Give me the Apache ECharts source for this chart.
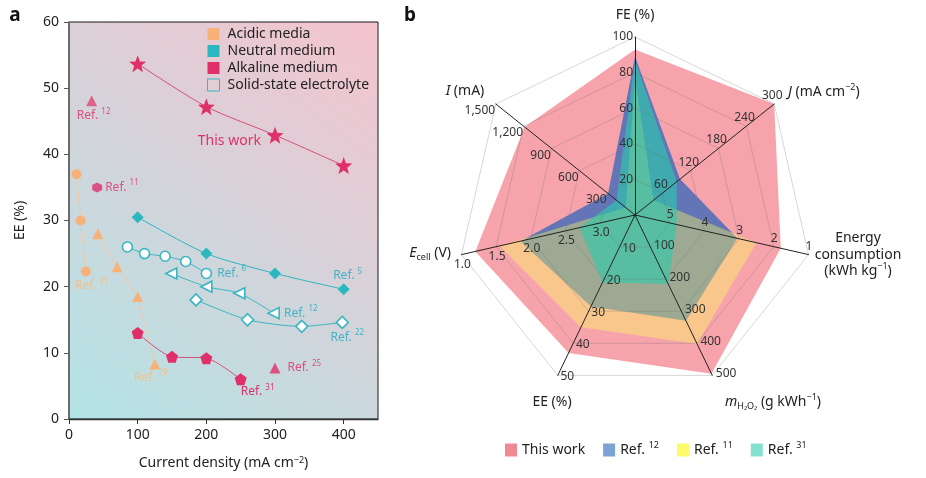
<!DOCTYPE html>
<html><head><meta charset="utf-8">
<script src="https://cdn.jsdelivr.net/npm/echarts@6/dist/echarts.min.js"></script>
<style>html,body{margin:0;padding:0;background:#fff}#c{width:926px;height:478px}</style>
</head><body><div id="c"></div>
<script>
// ---------------- Panel a data (x: current density mA cm-2, y: EE %) ----------------
const xTicksA = [0, 100, 200, 300, 400];
const yTicksA = [0, 10, 20, 30, 40, 50, 60];
const acidicRef21   = [[11, 37], [17, 30], [24.5, 22.3]];
const acidicRef29   = [[42, 28], [70, 23], [100, 18.5], [125, 8.3]];
const neutralRef5   = [[100, 30.5], [200, 25], [300, 22], [400, 19.6]];
const solidRef6     = [[85, 26], [110, 25], [140, 24.6], [170, 23.8], [200, 22]];
const solidRef12    = [[149, 22], [200, 20], [248, 19], [298, 16]];
const solidRef22    = [[185, 18], [260, 15], [339, 14], [398, 14.6]];
const alkalineRef31 = [[100, 13], [150, 9.4], [200, 9.2], [250, 6]];
const alkalineRef25 = [[300, 7.7]];
const alkalineRef12 = [[33, 48.1]];
const alkalineRef11 = [[41, 35]];
const thisWorkA     = [[100, 53.7], [200, 47.2], [300, 42.9], [400, 38.3]];

// ---------------- Panel b data (radar) ----------------
// indicator order (counter-clockwise from top): FE, I, Ecell, EE, mH2O2, Energy consumption, J
const radarAxes   = ['FE', 'I', 'Ecell', 'EE', 'mH2O2', 'Energy', 'J'];
const radarCentre = [0, 0, 3.5, 0, 0, 6, 0];     // value at the centre
const radarRim    = [100, 1500, 1.0, 50, 500, 1, 300]; // value at the outer ring
const radarThisWork = [93, 1190, 1.2, 43, 495, 1.8, 300];
const radarRef12    = [89, 290, 1.85, 28.5, 330, 3.05, 97];
const radarRef11    = [77, 100, 1.55, 35, 402, 2.5, 40];
const radarRef31    = [87, 200, 2.7, 21, 215, 4.8, 90];

const FONT = '"Noto Sans", "DejaVu Sans", sans-serif';
const cAcid = '#f7b27a', cAcidLine = '#f5c9a2', cAcidLbl = '#f3c08e';
const cNeut = '#2bb7bf', cSolid = '#3ab5c2', cTealLbl = '#45b3c6';
const cAlk = '#e0306a', cAlkLine = '#d4507b';

function starPath() {
  const p = [];
  for (let i = 0; i < 10; i++) {
    const r = i % 2 ? 21 : 50, a = Math.PI / 5 * i - Math.PI / 2;
    p.push((50 + r * Math.cos(a)).toFixed(2) + ',' + (50 + r * Math.sin(a)).toFixed(2));
  }
  return 'path://M' + p.join(' L') + ' Z';
}
const symPent = 'path://M50,0 L97.6,34.5 L79.4,90.5 L20.6,90.5 L2.4,34.5 Z';
const symHex = 'path://M50,0 L93.3,25 L93.3,75 L50,100 L6.7,75 L6.7,25 Z';

function refLabel(num, color, pos, dist, offset, size) {
  return {
    show: true, position: pos, distance: dist, offset: offset || [0, 0],
    formatter: (num === null ? '{t|This work}' : '{t|Ref. }{s|' + num + '}'),
    rich: {
      t: { fontSize: size || 12, color: color, fontFamily: FONT, lineHeight: 17 },
      s: { fontSize: 8, color: color, fontFamily: FONT, verticalAlign: 'top', lineHeight: 9 }
    }
  };
}
function withLabel(arr, idx, label) {
  return arr.map((p, i) => i === idx ? { value: p, label: label } : p);
}
function lineS(name, data, o) {
  return Object.assign({
    type: 'line', name: name, data: data, xAxisIndex: 0, yAxisIndex: 0,
    smooth: 0.25, z: 3, label: { show: false }, emphasis: { disabled: true }
  }, o);
}

const seriesA = [
  lineS('Acidic media', withLabel(acidicRef21, 2, refLabel(21, cAcidLbl, 'bottom', 1, [6, 0])), {
    smooth: false, symbol: 'circle', symbolSize: 10,
    itemStyle: { color: cAcid }, lineStyle: { color: cAcidLine, width: 1 } }),
  lineS('Acidic media', withLabel(acidicRef29, 3, refLabel(29, cAcidLbl, 'bottom', 1, [-4, -2])), {
    smooth: false, symbol: 'triangle', symbolSize: 11,
    itemStyle: { color: cAcid }, lineStyle: { color: cAcidLine, width: 1 } }),
  lineS('Neutral medium', withLabel(neutralRef5, 3, refLabel(5, cTealLbl, 'top', 1, [4, 2])), {
    symbol: 'diamond', symbolSize: 12,
    itemStyle: { color: cNeut }, lineStyle: { color: cNeut, width: 1 } }),
  lineS('Solid-state electrolyte', withLabel(solidRef6, 4, refLabel(6, cTealLbl, 'right', 5)), {
    symbol: 'circle', symbolSize: 10,
    itemStyle: { color: '#fff', borderColor: cSolid, borderWidth: 1.6 }, lineStyle: { color: cSolid, width: 1 } }),
  lineS('Solid-state electrolyte', withLabel(solidRef12, 3, refLabel(12, cTealLbl, 'right', 4)), {
    symbol: 'triangle', symbolRotate: 90, symbolSize: 11,
    itemStyle: { color: '#fff', borderColor: cSolid, borderWidth: 1.6 }, lineStyle: { color: cSolid, width: 1 } }),
  lineS('Solid-state electrolyte', withLabel(solidRef22, 3, refLabel(22, cTealLbl, 'bottom', 0, [5, 0])), {
    symbol: 'diamond', symbolSize: 12,
    itemStyle: { color: '#fff', borderColor: cSolid, borderWidth: 1.6 }, lineStyle: { color: cSolid, width: 1 } }),
  lineS('Alkaline medium', withLabel(alkalineRef31, 3, refLabel(31, cAlk, 'bottom', 0, [17, -2])), {
    symbol: symPent, symbolSize: 12,
    itemStyle: { color: cAlk }, lineStyle: { color: cAlkLine, width: 1 } }),
  { type: 'scatter', name: 'Alkaline medium', data: withLabel(alkalineRef25, 0, refLabel(25, cAlk, 'right', 7)),
    symbol: 'triangle', symbolSize: 11, itemStyle: { color: cAlk }, z: 3 },
  { type: 'scatter', name: 'Alkaline medium', data: withLabel(alkalineRef12, 0, refLabel(12, cAlk, 'bottom', 1, [2, 0])),
    symbol: 'triangle', symbolSize: 11, itemStyle: { color: '#de4874' }, z: 3 },
  { type: 'scatter', name: 'Alkaline medium', data: withLabel(alkalineRef11, 0, refLabel(11, cAlk, 'right', 3)),
    symbol: symHex, symbolSize: 10, itemStyle: { color: cAlk }, z: 3 },
  lineS('Alkaline medium', withLabel(thisWorkA, 1, refLabel(null, cAlk, 'bottom', 0, [23, 17], 14)), {
    symbol: starPath(), symbolSize: 17,
    itemStyle: { color: cAlk }, lineStyle: { color: cAlkLine, width: 1 } })
];

// radar: map every axis onto 0..span (inverted axes run from centre value to rim value)
const spans = radarCentre.map((c, i) => Math.abs(radarRim[i] - c));
function toRadar(vals) {
  return vals.map((v, i) => (v - radarCentre[i]) / (radarRim[i] - radarCentre[i]) * spans[i]);
}
function fmtTick(i) {
  return function (t) {
    if (Math.abs(t) < 1e-9) return '';
    const v = radarCentre[i] + t / spans[i] * (radarRim[i] - radarCentre[i]);
    if (radarAxes[i] === 'Ecell') return v.toFixed(1);
    return Math.round(v).toLocaleString('en-US');
  };
}
const lblLayout = {
  FE:     { align: 'right', verticalAlign: 'middle', margin: 2 },
  I:      { align: 'right', verticalAlign: 'top', margin: 1 },
  Ecell:  { align: 'center', verticalAlign: 'top', margin: 4 },
  EE:     { align: 'left', verticalAlign: 'middle', margin: 3 },
  mH2O2:  { align: 'left', verticalAlign: 'middle', margin: 4 },
  Energy: { align: 'center', verticalAlign: 'bottom', margin: 2 },
  J:      { align: 'center', verticalAlign: 'bottom', margin: 3 }
};
const indicators = radarAxes.map((n, i) => ({
  name: n, min: 0, max: spans[i],
  axisLabel: Object.assign({ show: true, formatter: fmtTick(i), fontSize: 12, color: '#333', fontFamily: FONT }, lblLayout[n])
}));

const rich14 = {
  i: { fontStyle: 'italic', fontSize: 14, fontFamily: FONT, color: '#222' },
  n: { fontSize: 14, fontFamily: FONT, color: '#222', lineHeight: 18 },
  s: { fontSize: 9, fontFamily: FONT, color: '#222', verticalAlign: 'top', lineHeight: 10 },
  sb: { fontSize: 9, fontFamily: FONT, color: '#222', verticalAlign: 'bottom', lineHeight: 10 }
};
function gText(x, y, text, align, extra) {
  return Object.assign({
    type: 'text', x: x, y: y, z: 10, silent: true,
    style: { text: text, rich: rich14, fill: '#222', font: '14px ' + FONT, align: align || 'center', verticalAlign: 'middle' }
  }, extra || {});
}

const option = {
  animation: false,
  backgroundColor: '#fff',
  textStyle: { fontFamily: FONT },
  grid: {
    left: 69, top: 22, width: 309, height: 397, show: true,
    borderColor: '#1a1a1a', borderWidth: 1,
    backgroundColor: new echarts.graphic.LinearGradient(0, 1, 1, 0, [
      { offset: 0, color: '#b2e4e6' }, { offset: 1, color: '#f5c3ce' }
    ])
  },
  xAxis: {
    type: 'value', min: 0, max: 450, interval: 100,
    name: 'Current density (mA cm{s|−2})', nameLocation: 'middle', nameGap: 37,
    nameTextStyle: { fontSize: 14, color: '#222', fontFamily: FONT, rich: { s: { fontSize: 9, verticalAlign: 'top', color: '#222' } } },
    axisLine: { show: true, lineStyle: { color: '#333', width: 1.3 } },
    axisTick: { show: true, length: 5, lineStyle: { color: '#333' } },
    axisLabel: { fontSize: 14, color: '#222', margin: 9, showMaxLabel: false,
      formatter: v => xTicksA.indexOf(v) >= 0 ? String(v) : '' },
    splitLine: { show: false }
  },
  yAxis: {
    type: 'value', min: 0, max: 60, interval: 10,
    name: 'EE (%)', nameLocation: 'middle', nameGap: 42, nameRotate: 90,
    nameTextStyle: { fontSize: 14, color: '#222', fontFamily: FONT },
    axisLine: { show: true, lineStyle: { color: '#666', width: 1.6 } },
    axisTick: { show: true, length: 5, lineStyle: { color: '#555' } },
    axisLabel: { fontSize: 14, color: '#222', margin: 10,
      formatter: v => yTicksA.indexOf(v) >= 0 ? String(v) : '' },
    splitLine: { show: false }
  },
  legend: [{
    orient: 'vertical', left: 207, top: 26, itemWidth: 12, itemHeight: 12, itemGap: 1, padding: 0,
    icon: 'rect', selectedMode: false,
    textStyle: { fontSize: 14, lineHeight: 16, color: '#222', fontFamily: FONT, padding: [0, 0, 0, 3] },
    data: [
      { name: 'Acidic media', itemStyle: { color: cAcid } },
      { name: 'Neutral medium', itemStyle: { color: cNeut } },
      { name: 'Alkaline medium', itemStyle: { color: cAlk } },
      { name: 'Solid-state electrolyte', itemStyle: { color: 'rgba(255,255,255,0)', borderColor: cSolid, borderWidth: 1 } }
    ]
  }, {
    orient: 'horizontal', left: 500, top: 436, itemWidth: 12, itemHeight: 13, itemGap: 18,
    icon: 'rect', selectedMode: false,
    textStyle: { fontSize: 14, color: '#222', fontFamily: FONT,
      rich: { s: { fontSize: 9, color: '#222', verticalAlign: 'top', lineHeight: 10 }, n: { fontSize: 14, color: '#222', lineHeight: 18 } } },
    formatter: name => name === 'This work' ? name : '{n|Ref. }{s|' + name.replace('Ref. ', '') + '}',
    data: [
      { name: 'This work', itemStyle: { color: '#ef8a95' } },
      { name: 'Ref. 12', itemStyle: { color: '#7ba3d3' } },
      { name: 'Ref. 11', itemStyle: { color: '#fdfb6c' } },
      { name: 'Ref. 31', itemStyle: { color: '#86e0d0' } }
    ]
  }],
  radar: {
    center: [635, 215], radius: 178, startAngle: 90, splitNumber: 5, shape: 'polygon', z: 3,
    indicator: indicators,
    axisName: { show: false },
    axisLine: { lineStyle: { color: '#222', width: 1 } },
    splitLine: { lineStyle: { color: 'rgba(110,110,110,0.35)', width: 0.8 } },
    splitArea: { show: false },
    axisTick: { show: false }
  },
  series: seriesA.concat([{
    type: 'radar', radarIndex: 0, symbol: 'none', z: 2, silent: true,
    lineStyle: { width: 0, opacity: 0 },
    data: [
      { name: 'This work', value: toRadar(radarThisWork), itemStyle: { color: '#ef8a95' }, areaStyle: { color: 'rgba(240,106,120,0.62)', opacity: 1 } },
      { name: 'Ref. 12', value: toRadar(radarRef12), itemStyle: { color: '#7ba3d3' }, areaStyle: { color: 'rgba(50,102,186,0.75)', opacity: 1 } },
      { name: 'Ref. 11', value: toRadar(radarRef11), itemStyle: { color: '#fdfb6c' }, areaStyle: { color: 'rgba(255,255,90,0.38)', opacity: 1 } },
      { name: 'Ref. 31', value: toRadar(radarRef31), itemStyle: { color: '#86e0d0' }, areaStyle: { color: 'rgba(40,205,170,0.6)', opacity: 1 } }
    ]
  }]),
  graphic: [
    gText(15, 16, 'a', 'center', { style: { text: 'a', fill: '#111', font: 'bold 19px ' + FONT, align: 'center', verticalAlign: 'middle' } }),
    gText(410, 16, 'b', 'center', { style: { text: 'b', fill: '#111', font: 'bold 19px ' + FONT, align: 'center', verticalAlign: 'middle' } }),
    gText(635, 15, 'FE (%)', 'center'),
    gText(788, 92, '{i|J}{n| (mA cm}{s|−2}{n|)}', 'left'),
    gText(858, 238, 'Energy', 'center'),
    gText(858, 255, 'consumption', 'center'),
    gText(858, 271, '{n|(kWh kg}{s|−1}{n|)}', 'center'),
    gText(725, 402, '{i|m}{sb|H₂O₂}{n| (g kWh}{s|−1}{n|)}', 'left'),
    gText(552, 402, 'EE (%)', 'center'),
    gText(451, 253, '{i|E}{sb|cell}{n| (V)}', 'right'),
    gText(465, 91, '{i|I}{n| (mA)}', 'center')
  ]
};

const chart = echarts.init(document.getElementById('c'));
chart.setOption(option);
</script>
</body></html>
